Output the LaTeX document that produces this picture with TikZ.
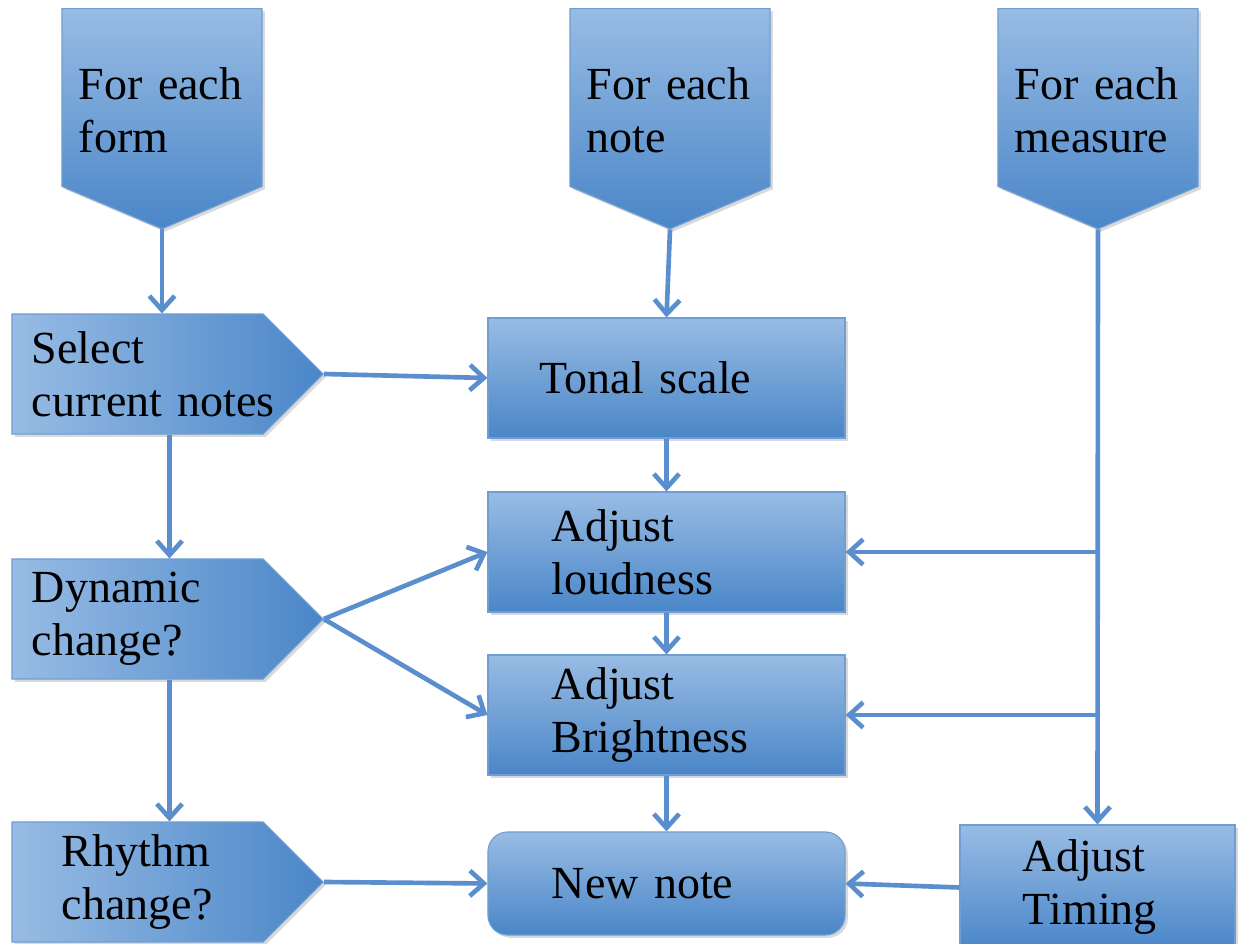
\documentclass[tikz,border=0pt]{standalone}
\usepackage{fontspec}
\setmainfont{Liberation Serif}
\usetikzlibrary{shapes.symbols,shadows,arrows.meta}

\definecolor{boxlight}{RGB}{152,188,228}
\definecolor{boxdark}{RGB}{74,134,200}
\definecolor{boxline}{RGB}{112,158,212}
\definecolor{arrowcol}{RGB}{90,142,205}

\begin{document}
\begin{tikzpicture}[x=0.025cm, y=-0.025cm]

\tikzstyle{boxbase} = [inner sep=0pt, font=\fontsize{32.7}{37.7}\selectfont, align=left,
  draw=boxline, line width=0.8pt, drop shadow={shadow xshift=2pt, shadow yshift=-2pt, opacity=0.3}]
\tikzstyle{eachbox} = [boxbase, signal, signal to=south, signal pointer angle=134,
  minimum width=5cm, minimum height=5.325cm, text width=4.15cm, text height=41.2pt,
  top color=boxlight, bottom color=boxdark]
\tikzstyle{askbox} = [boxbase, signal, signal to=east, signal pointer angle=90,
  minimum height=3cm, inner xsep=0.5cm, text width=5.275cm, left color=boxlight, right color=boxdark]
\tikzstyle{workbox} = [boxbase, rectangle, minimum width=8.925cm, minimum height=3cm,
  top color=boxlight, bottom color=boxdark]
\tikzstyle{arrow} = [draw=arrowcol, line width=3.3pt, -{Straight Barb[length=10pt, width=18pt]}]

\useasboundingbox (0,0) rectangle (1239,944);

\node[eachbox] (f) at (162,97.5) {For each\\form};
\node[eachbox] (n) at (670,97.5) {For each\\note};
\node[eachbox] (m) at (1098,97.5) {For each\\measure};

\node[askbox] (s) at (137.5,374) {Select\\\mbox{current notes}};
\node[askbox] (d) at (137.5,619) {Dynamic\\change?};
\node[askbox, inner xsep=1.25cm, text width=3.775cm] (r) at (137.5,882) {Rhythm\\change?};

\node[workbox, text width=6.325cm] (t) at (666.5,378) {Tonal scale};
\node[workbox, text width=5.725cm] (l) at (666.5,552) {Adjust\\loudness};
\node[workbox, text width=5.725cm] (b) at (666.5,715) {Adjust\\Brightness};
\node[workbox, text width=5.725cm, minimum height=2.575cm, rounded corners=14pt] (nn) at (666.5,883.5) {New note};
\node[workbox, text width=3.725cm, minimum width=6.875cm, minimum height=3.125cm] (tm) at (1097.5,887.5) {Adjust\\Timing};

\coordinate (j1) at (m.south |- l.east);
\coordinate (j2) at (m.south |- b.east);

\draw[arrow] (f.south) -- (f.south |- s.north);
\draw[arrow] (n.south) -- (t.north);
\draw[arrow] (s.east) -- (t.west);
\draw[arrow] ([xshift=0.8cm]s.south) -- ([xshift=0.8cm]d.north);
\draw[arrow] (d.east) -- (l.west);
\draw[arrow] (d.east) -- (b.west);
\draw[arrow] ([xshift=0.8cm]d.south) -- ([xshift=0.8cm]r.north);
\draw[arrow] (r.east) -- (nn.west);
\draw[arrow] (t) -- (l);
\draw[arrow] (l) -- (b);
\draw[arrow] (b) -- (nn);
\draw[arrow] (m.south) -- (tm.north);
\draw[arrow] (j1) -- (l.east);
\draw[arrow] (j2) -- (b.east);
\draw[arrow] (tm.west) -- (nn.east);
\end{tikzpicture}
\end{document}
